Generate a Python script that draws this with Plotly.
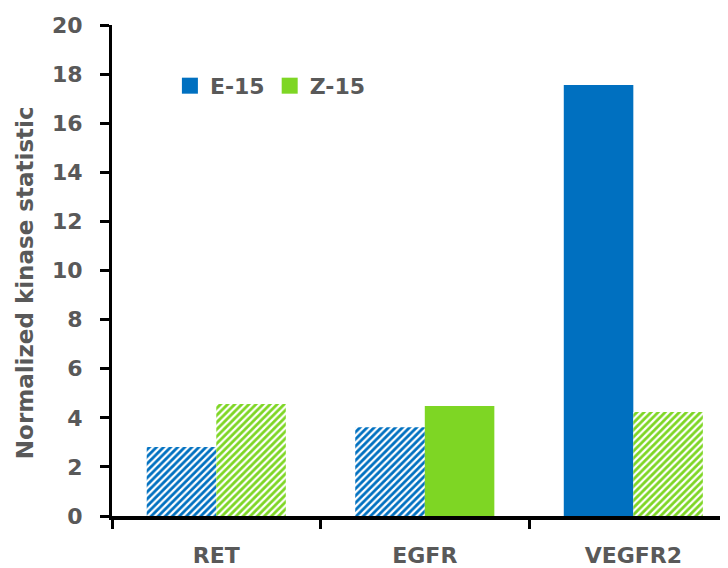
import plotly.graph_objects as go

categories = ["RET", "EGFR", "VEGFR2"]
e15_values = [2.81, 3.62, 17.56]
z15_values = [4.56, 4.48, 4.24]
e15_hatched = [True, True, False]
z15_hatched = [True, False, True]
y_ticks = [0, 2, 4, 6, 8, 10, 12, 14, 16, 18, 20]

BLUE = "#0070C0"
GREEN = "#7ED624"
GRAY = "#595959"
FONT = "DejaVu Sans"

def pattern(flags, color):
    return dict(
        shape=["/" if f else "" for f in flags],
        fgcolor=color,
        bgcolor="white",
        size=5,
        solidity=0.55,
        fillmode="replace",
    )

fig = go.Figure()
fig.add_trace(go.Bar(
    x=categories, y=e15_values, name="E-15", showlegend=False,
    marker=dict(color=BLUE, line=dict(width=0), pattern=pattern(e15_hatched, BLUE)),
))
fig.add_trace(go.Bar(
    x=categories, y=z15_values, name="Z-15", showlegend=False,
    marker=dict(color=GREEN, line=dict(width=0), pattern=pattern(z15_hatched, GREEN)),
))
# solid legend keys
for name, col in [("E-15", BLUE), ("Z-15", GREEN)]:
    fig.add_trace(go.Scatter(
        x=[None], y=[None], mode="markers", name=name,
        marker=dict(symbol="square", size=17, color=col),
    ))

fig.update_layout(
    width=720, height=560,
    margin=dict(l=104, r=0, t=17, b=52),
    paper_bgcolor="white", plot_bgcolor="white",
    barmode="group", bargap=0.333, bargroupgap=0,
    font=dict(family=FONT, color=GRAY, size=20),
    showlegend=True,
    legend=dict(
        orientation="h", x=0.094, y=0.876, xanchor="left", yanchor="middle",
        font=dict(family=FONT, size=22, color=GRAY, weight="bold"),
        bgcolor="rgba(0,0,0,0)", traceorder="normal", itemclick=False,
    ),
    xaxis=dict(
        range=[-0.5, 2.454], automargin=False,
        showline=True, linecolor="black", linewidth=3.5,
        ticks="outside", tickson="boundaries", ticklen=9, tickwidth=3, tickcolor="black",
        tickfont=dict(family=FONT, size=22, color=GRAY, weight="bold"),
        ticklabelstandoff=17,
        showgrid=False, zeroline=False,
    ),
    yaxis=dict(
        range=[0, 20], tickvals=y_ticks, automargin=False,
        showline=True, linecolor="black", linewidth=3,
        ticks="outside", ticklen=9, tickwidth=3, tickcolor="black",
        tickfont=dict(family=FONT, size=22, color=GRAY, weight="bold"),
        ticklabelstandoff=13,
        showgrid=False, zeroline=False,
    ),
    annotations=[dict(
        text="Normalized kinase statistic", textangle=-90,
        xref="paper", yref="paper", x=-0.141, y=0.4745,
        xanchor="center", yanchor="middle", showarrow=False,
        font=dict(family=FONT, size=23, color=GRAY, weight="bold"),
    )],
)

fig.write_html("out.html")
